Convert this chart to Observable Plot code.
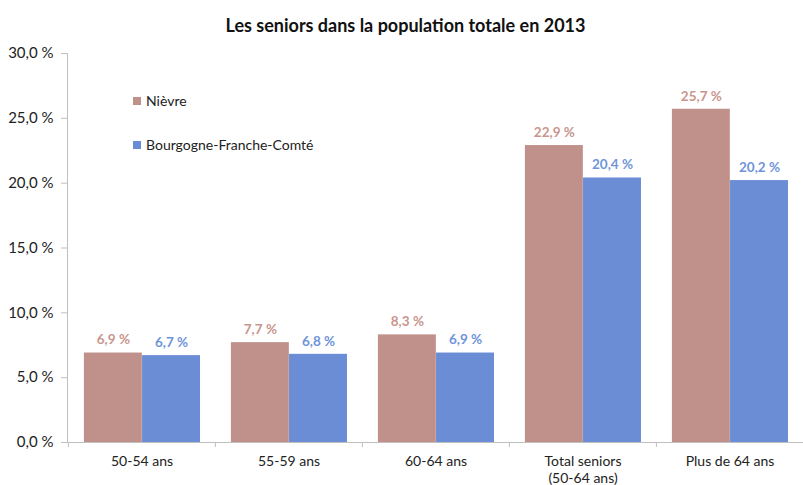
<!DOCTYPE html>
<html>
<head>
<meta charset="utf-8">
<script src="https://cdn.jsdelivr.net/npm/d3@7"></script>
<script src="https://cdn.jsdelivr.net/npm/@observablehq/plot@0.6"></script>
<style>
  body { margin: 0; background: #fff; font-family: Lato, "Open Sans", sans-serif; }
  #wrap { position: relative; width: 803px; height: 485px; }
  #title { position: absolute; left: 0; top: 0; width: 803px; height: 50px; line-height: 50px; text-align: center; font-weight: bold; font-size: 18px; color: #111; padding-left: 8px; box-sizing: border-box; }
  .leg { position: absolute; font-size: 14px; color: #222; display: flex; align-items: center; }
  .leg span.sw { display: inline-block; width: 8px; height: 8px; margin-right: 5px; }
</style>
</head>
<body>
<div id="wrap">
  <div id="chart"></div>
  <div id="title"></div>
</div>
<script>
const title = "Les seniors dans la population totale en 2013";
const categories = ["50-54 ans", "55-59 ans", "60-64 ans", "Total seniors\n(50-64 ans)", "Plus de 64 ans"];
const series = ["Nièvre", "Bourgogne-Franche-Comté"];
const nievre = [6.9, 7.7, 8.3, 22.9, 25.7];
const bfc = [6.7, 6.8, 6.9, 20.4, 20.2];
const yTicks = [0, 5, 10, 15, 20, 25, 30];
const barColors = ["#C0908A", "#6A8DD6"];
const labelColors = ["#C9968E", "#6F94DB"];

document.getElementById("title").textContent = title;

const values = [nievre, bfc];
const data = [];
series.forEach((s, i) => categories.forEach((c, j) => data.push({series: s, cat: c, value: values[i][j], idx: i})));

const fmt = d => d.toFixed(1).replace(".", ",") + " %";

const W = 803, ML = 67, MR = 0;
const bw = (W - ML - MR) / categories.length;
const barW = bw * 0.395;
const off = bw * 0.108;

const chart = Plot.plot({
  width: W,
  height: 485,
  marginTop: 53,
  marginBottom: 43,
  marginLeft: ML,
  marginRight: MR,
  style: {fontFamily: "Lato, 'Open Sans', sans-serif", fontSize: "13px", color: "#222", background: "#fff"},
  x: {domain: categories, padding: 0, label: null},
  y: {domain: [0, 30], label: null},
  marks: [
    Plot.barY(data.filter(d => d.idx === 0), {x: "cat", y: "value", fill: barColors[0], insetLeft: off, insetRight: bw - off - barW}),
    Plot.barY(data.filter(d => d.idx === 1), {x: "cat", y: "value", fill: barColors[1], insetLeft: off + barW, insetRight: bw - off - 2 * barW}),
    Plot.text(data.filter(d => d.idx === 0), {x: "cat", y: "value", text: d => fmt(d.value), dx: -(bw / 2 - off - barW / 2), dy: -13, fill: labelColors[0], fontWeight: "bold", fontSize: 13.5}),
    Plot.text(data.filter(d => d.idx === 1), {x: "cat", y: "value", text: d => fmt(d.value), dx: off + barW * 1.5 - bw / 2, dy: -13, fill: labelColors[1], fontWeight: "bold", fontSize: 13.5}),
    Plot.frame({anchor: "left", stroke: "#bfbfbf"}),
    Plot.ruleY([0], {stroke: "#bfbfbf"}),
    Plot.axisY({ticks: yTicks, tickFormat: fmt, tickSize: 6, stroke: "#bfbfbf", tickPadding: 8, fontSize: 15, fill: "#222", label: null}),
    Plot.axisX({tickSize: 5, text: null, dx: -bw / 2, stroke: "#bfbfbf", label: null}),
    Plot.axisX({tickSize: 0, tickPadding: 12, fontSize: 14, fill: "#222", lineHeight: 1.2, label: null})
  ]
});
document.getElementById("chart").appendChild(chart);

const wrap = document.getElementById("wrap");
const legTops = [92, 136];
series.forEach((s, i) => {
  const d = document.createElement("div");
  d.className = "leg";
  d.style.left = "133px";
  d.style.top = legTops[i] + "px";
  d.innerHTML = `<span class="sw" style="background:${barColors[i]}"></span>${s}`;
  wrap.appendChild(d);
});
</script>
</body>
</html>
